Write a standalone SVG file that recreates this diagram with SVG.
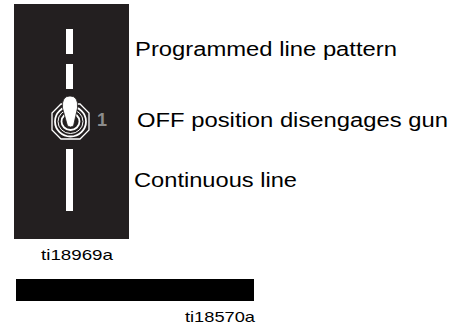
<svg xmlns="http://www.w3.org/2000/svg" width="457" height="327" viewBox="0 0 457 327">
<style>
.lbl{font-family:"Liberation Sans",Arial,sans-serif;font-size:20px;fill:#000}
.tag{font-family:"Liberation Sans",Arial,sans-serif;font-size:15px;fill:#000}
.dash{fill:#fff}
.ring{fill:none;stroke:#fff}
</style>
<rect width="457" height="327" fill="#fff"/>
<g id="panel">
<rect x="14" y="4" width="115" height="235" fill="#231f20"/>
<rect class="dash" x="66" y="29" width="7" height="25"/>
<rect class="dash" x="66" y="64" width="7" height="25"/>
<rect class="dash" x="66" y="149" width="7" height="62"/>
</g>
<g id="toggle">
<polygon points="61,104 80,104 89,113 89,130 80,139 61,139 52,130 52,113" fill="#231f20" stroke="#fff" stroke-width="1.3"/>
<ellipse class="ring" cx="70.5" cy="121.5" rx="15.5" ry="15" stroke-width="1.8"/>
<ellipse class="ring" cx="70.5" cy="121.5" rx="12.5" ry="12" stroke-width="1"/>
<ellipse class="ring" cx="70.5" cy="121.5" rx="9" ry="8.5" stroke-width="1.8"/>
<path d="M62.5,108 Q61.5,96 70,96 Q78.5,96 77.5,108 L73.5,126 Q70.5,128 67.5,126 Z" fill="#fff" stroke="#231f20" stroke-width="0.8"/>
<text x="97" y="126" font-family="Liberation Sans,Arial,sans-serif" font-size="18" font-weight="bold" fill="#8c8c8c">1</text>
</g>
<g id="labels">
<text class="lbl" x="135" y="56" textLength="262" lengthAdjust="spacingAndGlyphs">Programmed line pattern</text>
<text class="lbl" x="137" y="127" textLength="311" lengthAdjust="spacingAndGlyphs">OFF position disengages gun</text>
<text class="lbl" x="134" y="187" textLength="163" lengthAdjust="spacingAndGlyphs">Continuous line</text>
</g>
<g id="fig1">
<text class="tag" x="41" y="260" textLength="72" lengthAdjust="spacingAndGlyphs">ti18969a</text>
</g>
<g id="fig2">
<rect x="16" y="279" width="238" height="22" fill="#000"/>
<text class="tag" x="185" y="322" textLength="70" lengthAdjust="spacingAndGlyphs">ti18570a</text>
</g>
</svg>
